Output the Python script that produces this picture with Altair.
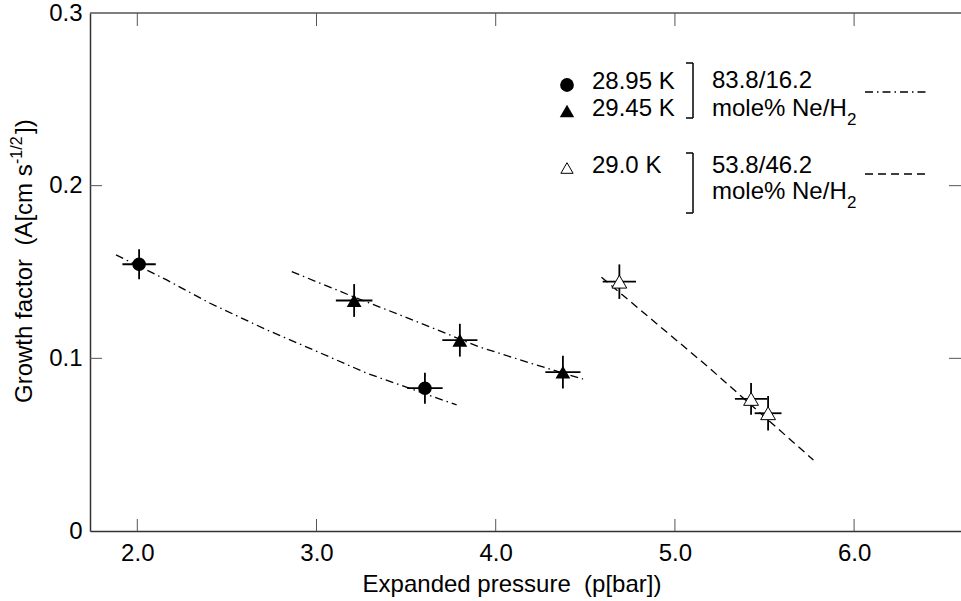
import altair as alt
import pandas as pd

# ---------------- data ----------------
series = ["c", "c", "t", "t", "t", "o", "o", "o"]
pressure = [2.01, 3.605, 3.21, 3.80, 4.375, 4.69, 5.425, 5.52]
growth = [0.1545, 0.0827, 0.1335, 0.1105, 0.0920, 0.1444, 0.0765, 0.0682]
p_err = [0.093, 0.099, 0.102, 0.098, 0.098, 0.093, 0.090, 0.075]
g_err = [0.0087, 0.0090, 0.0095, 0.0095, 0.0095, 0.0100, 0.0092, 0.0100]

# fitted curves
fit1_p = [1.881, 2.164, 2.406, 2.722, 2.982, 3.280, 3.782]
fit1_g = [0.1599, 0.1454, 0.1319, 0.1165, 0.1049, 0.0914, 0.0730]
fit2_p = [2.862, 3.205, 3.466, 3.652, 3.903, 4.200, 4.487]
fit2_g = [0.1502, 0.1357, 0.1251, 0.1174, 0.1068, 0.0970, 0.0880]
fit3_p = [4.590, 5.180, 5.773]
fit3_g = [0.1470, 0.0955, 0.0411]

x_ticks = [2.0, 3.0, 4.0, 5.0, 6.0]
y_ticks = [0.0, 0.1, 0.2, 0.3]
y_inner_ticks = [0.1, 0.2]

FONT = "Liberation Sans"
FS = 24
W, H = 871, 518
NB = "\u00a0"

pts = pd.DataFrame({"series": series, "p": pressure, "g": growth,
                    "pe": p_err, "ge": g_err})
pts["p_lo"] = pts["p"] - pts["pe"]
pts["p_hi"] = pts["p"] + pts["pe"]
pts["g_lo"] = pts["g"] - pts["ge"]
pts["g_hi"] = pts["g"] + pts["ge"]

fits = pd.concat([
    pd.DataFrame({"curve": "f1", "p": fit1_p, "g": fit1_g, "i": range(len(fit1_p))}),
    pd.DataFrame({"curve": "f2", "p": fit2_p, "g": fit2_g, "i": range(len(fit2_p))}),
    pd.DataFrame({"curve": "f3", "p": fit3_p, "g": fit3_g, "i": range(len(fit3_p))}),
])

xs = alt.Scale(domain=[1.736, 6.5965], nice=False, zero=False)
ys = alt.Scale(domain=[0, 0.3], nice=False, zero=False)

x_axis = alt.Axis(values=x_ticks, format=".1f", title=None, ticks=False, tickSize=0,
                  labelFont=FONT, labelFontSize=FS, labelColor="black",
                  labelPadding=29, labelBaseline="alphabetic", labelFlush=False,
                  labelOverlap=False, grid=False, domainColor="#333", domainWidth=1.5)
y_axis = alt.Axis(values=y_ticks, title=None, ticks=False, tickSize=0,
                  labelExpr="datum.value == 0 ? '0' : format(datum.value, '.1f')",
                  labelFont=FONT, labelFontSize=FS, labelColor="black",
                  labelPadding=8, labelFlush=False, labelOverlap=False, grid=False,
                  domainColor="#333", domainWidth=1.5)


def X(field):
    return alt.X(field, scale=xs, axis=x_axis, title=None)


def Y(field):
    return alt.Y(field, scale=ys, axis=y_axis, title=None)


base = alt.Chart(pts)

hbars = base.mark_rule(color="black", strokeWidth=1.8).encode(
    x=X("p_lo:Q"), x2="p_hi:Q", y=Y("g:Q"))
vbars = base.mark_rule(color="black", strokeWidth=1.8).encode(
    x=X("p:Q"), y=Y("g_lo:Q"), y2="g_hi:Q")

fit_dashdot = alt.Chart(fits).transform_filter("datum.curve != 'f3'").mark_line(
    color="black", strokeWidth=1.3, strokeDash=[8, 4, 1.5, 4]).encode(
    x=X("p:Q"), y=Y("g:Q"), detail="curve:N", order="i:Q")
fit_dash = alt.Chart(fits).transform_filter("datum.curve == 'f3'").mark_line(
    color="black", strokeWidth=1.3, strokeDash=[8, 5]).encode(
    x=X("p:Q"), y=Y("g:Q"), order="i:Q")

circles = base.transform_filter("datum.series == 'c'").mark_point(
    shape="circle", filled=True, color="black", size=185, opacity=1).encode(
    x=X("p:Q"), y=Y("g:Q"))
tri_filled = base.transform_filter("datum.series == 't'").mark_point(
    shape="triangle-up", filled=True, color="black", size=220, opacity=1).encode(
    x=X("p:Q"), y=Y("g:Q"))
tri_open = base.transform_filter("datum.series == 'o'").mark_point(
    shape="triangle-up", filled=True, fill="white", stroke="black", strokeWidth=1,
    size=220, opacity=1).encode(
    x=X("p:Q"), y=Y("g:Q"))

# inward ticks and frame
xt = pd.DataFrame({"p": x_ticks})
yt = pd.DataFrame({"g": y_inner_ticks})
tick_style = dict(color="#555", strokeWidth=1)
bottom_ticks = alt.Chart(xt).mark_rule(**tick_style).encode(
    x=X("p:Q"), y=alt.value(H), y2=alt.value(H - 12))
top_ticks = alt.Chart(xt).mark_rule(**tick_style).encode(
    x=X("p:Q"), y=alt.value(0), y2=alt.value(13))
left_ticks = alt.Chart(yt).mark_rule(**tick_style).encode(
    y=Y("g:Q"), x=alt.value(0), x2=alt.value(12))
right_ticks = alt.Chart(yt).mark_rule(**tick_style).encode(
    y=Y("g:Q"), x=alt.value(W - 12), x2=alt.value(W))
one = pd.DataFrame({"k": [0]})
top_frame = alt.Chart(one).mark_rule(color="#555", strokeWidth=1.5).encode(
    x=alt.value(0), x2=alt.value(W), y=alt.value(0))


def txt(text, x, y, size=FS, align="left", baseline="alphabetic", angle=0):
    kw = dict(text=text, font=FONT, fontSize=size, align=align, baseline=baseline,
              color="black")
    if angle:
        kw["angle"] = angle
    return alt.Chart(one).mark_text(**kw).encode(x=alt.value(x), y=alt.value(y))


# titles
x_title = txt("Expanded pressure " + NB + "(p[bar])", 422, 578.7, align="center")
y_title_main = txt("Growth factor " + NB + "(A[cm s", -58, 390, angle=270)
y_title_sup = txt("-1/2", -68, 151, size=16, angle=270)
y_title_end = txt("])", -58, 121, angle=270)

# legend
leg_marks = [
    alt.Chart(one).mark_point(shape="circle", filled=True, color="black", size=190,
                              opacity=1).encode(x=alt.value(477), y=alt.value(72)),
    alt.Chart(one).mark_point(shape="triangle-up", filled=True, color="black", size=210,
                              opacity=1).encode(x=alt.value(477), y=alt.value(98)),
    alt.Chart(one).mark_point(shape="triangle-up", filled=True, fill="white",
                              stroke="black", strokeWidth=1, size=150,
                              opacity=1).encode(x=alt.value(477), y=alt.value(155)),
]
leg_texts = [
    txt("28.95 K", 502, 76.3),
    txt("29.45 K", 502, 103),
    txt("29.0 K", 502, 159.7),
    txt("83.8/16.2", 622, 75.3),
    txt("mole% Ne/H", 622, 103),
    txt("2", 757, 112, size=17),
    txt("53.8/46.2", 622, 159.7),
    txt("mole% Ne/H", 622, 186),
    txt("2", 757, 195, size=17),
]
br = dict(color="black", strokeWidth=1.5)
brackets = [
    alt.Chart(one).mark_rule(**br).encode(x=alt.value(603), y=alt.value(50), y2=alt.value(105)),
    alt.Chart(one).mark_rule(**br).encode(x=alt.value(596), x2=alt.value(603), y=alt.value(50)),
    alt.Chart(one).mark_rule(**br).encode(x=alt.value(596), x2=alt.value(603), y=alt.value(105)),
    alt.Chart(one).mark_rule(**br).encode(x=alt.value(603), y=alt.value(140), y2=alt.value(200)),
    alt.Chart(one).mark_rule(**br).encode(x=alt.value(596), x2=alt.value(603), y=alt.value(140)),
    alt.Chart(one).mark_rule(**br).encode(x=alt.value(596), x2=alt.value(603), y=alt.value(200)),
]
leg_lines = [
    alt.Chart(one).mark_rule(color="black", strokeWidth=1.3, strokeDash=[8, 4, 1.5, 4]).encode(
        x=alt.value(775), x2=alt.value(838), y=alt.value(79)),
    alt.Chart(one).mark_rule(color="black", strokeWidth=1.3, strokeDash=[8, 5]).encode(
        x=alt.value(775), x2=alt.value(838), y=alt.value(161)),
]

chart = alt.layer(
    top_frame, bottom_ticks, top_ticks, left_ticks, right_ticks,
    fit_dashdot, fit_dash, hbars, vbars, circles, tri_filled, tri_open,
    x_title, y_title_main, y_title_sup, y_title_end,
    *leg_marks, *leg_texts, *brackets, *leg_lines,
).properties(
    width=W, height=H,
    autosize=alt.AutoSizeParams(type="none"),
    padding={"left": 90, "top": 13, "right": 0, "bottom": 70},
    background="white",
).configure_view(stroke=None)

chart.save("out.html", embed_options={"renderer": "svg", "actions": False})
